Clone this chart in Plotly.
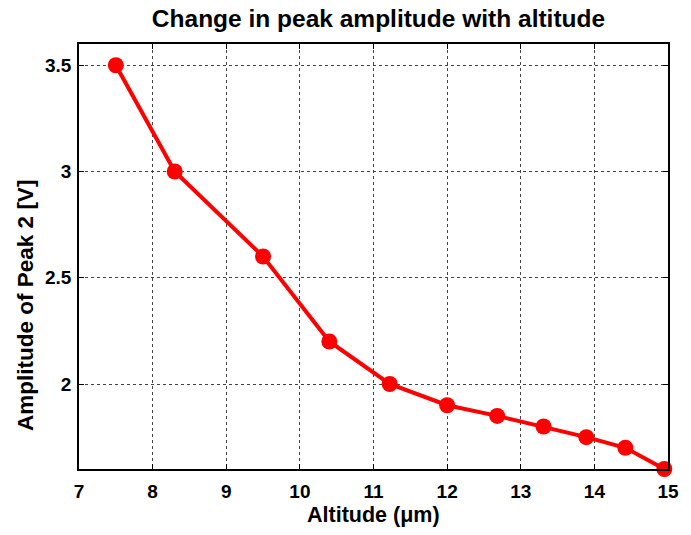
import plotly.graph_objects as go

altitude = [7.5, 8.3, 9.5, 10.4, 11.22, 12.0, 12.68, 13.31, 13.89, 14.42, 14.95]
amplitude = [3.5, 3.0, 2.6, 2.2, 2.0, 1.90, 1.85, 1.80, 1.75, 1.70, 1.60]
x_ticks = [7, 8, 9, 10, 11, 12, 13, 14, 15]
y_ticks = [2, 2.5, 3, 3.5]
y_tick_text = ["2", "2.5", "3", "3.5"]

FONT = "Liberation Sans"
L, R, T, B = 79, 678, 44, 469
W, H = 691, 535

fig = go.Figure()
fig.add_trace(go.Scatter(
    x=altitude, y=amplitude, mode="lines+markers",
    line=dict(color="#ff0000", width=4),
    marker=dict(color="#ff0000", size=16),
    cliponaxis=False, showlegend=False,
))

axis_common = dict(
    showline=True, linecolor="black", linewidth=1.5, mirror="ticks",
    ticks="inside", ticklen=5, tickcolor="black", tickwidth=1,
    showgrid=True, gridcolor="#444", griddash="dot", gridwidth=1,
    zeroline=False,
    tickfont=dict(family=FONT, size=19, color="black", weight="bold"),
)

fig.update_layout(
    width=W, height=H,
    margin=dict(l=L, r=W - R, t=T, b=H - B),
    paper_bgcolor="white", plot_bgcolor="white",
    title=dict(text="<b>Change in peak amplitude with altitude</b>",
               x=378.5 / W, xanchor="center", y=1 - 18 / H, yanchor="middle",
               font=dict(family=FONT, size=24.5, color="black")),
    xaxis=dict(range=[7, 15], tickvals=x_ticks, ticktext=[str(v) for v in x_ticks],
               ticklabelstandoff=4, **axis_common),
    yaxis=dict(range=[1.6, 3.6], tickvals=y_ticks, ticktext=y_tick_text,
               ticklabelstandoff=2, **axis_common),
    annotations=[
        dict(text="<b>Altitude (μm)</b>", xref="paper", yref="paper",
             x=(378.5 - L) / (R - L), y=(B - 515) / (B - T),
             xanchor="center", yanchor="middle", showarrow=False,
             font=dict(family=FONT, size=21.5, color="black")),
        dict(text="<b>Amplitude of Peak 2 [V]</b>", xref="paper", yref="paper",
             x=(24 - L) / (R - L), y=(B - 305) / (B - T), textangle=-90,
             xanchor="center", yanchor="middle", showarrow=False,
             font=dict(family=FONT, size=22.5, color="black")),
    ],
)

fig.write_html("out.html")
